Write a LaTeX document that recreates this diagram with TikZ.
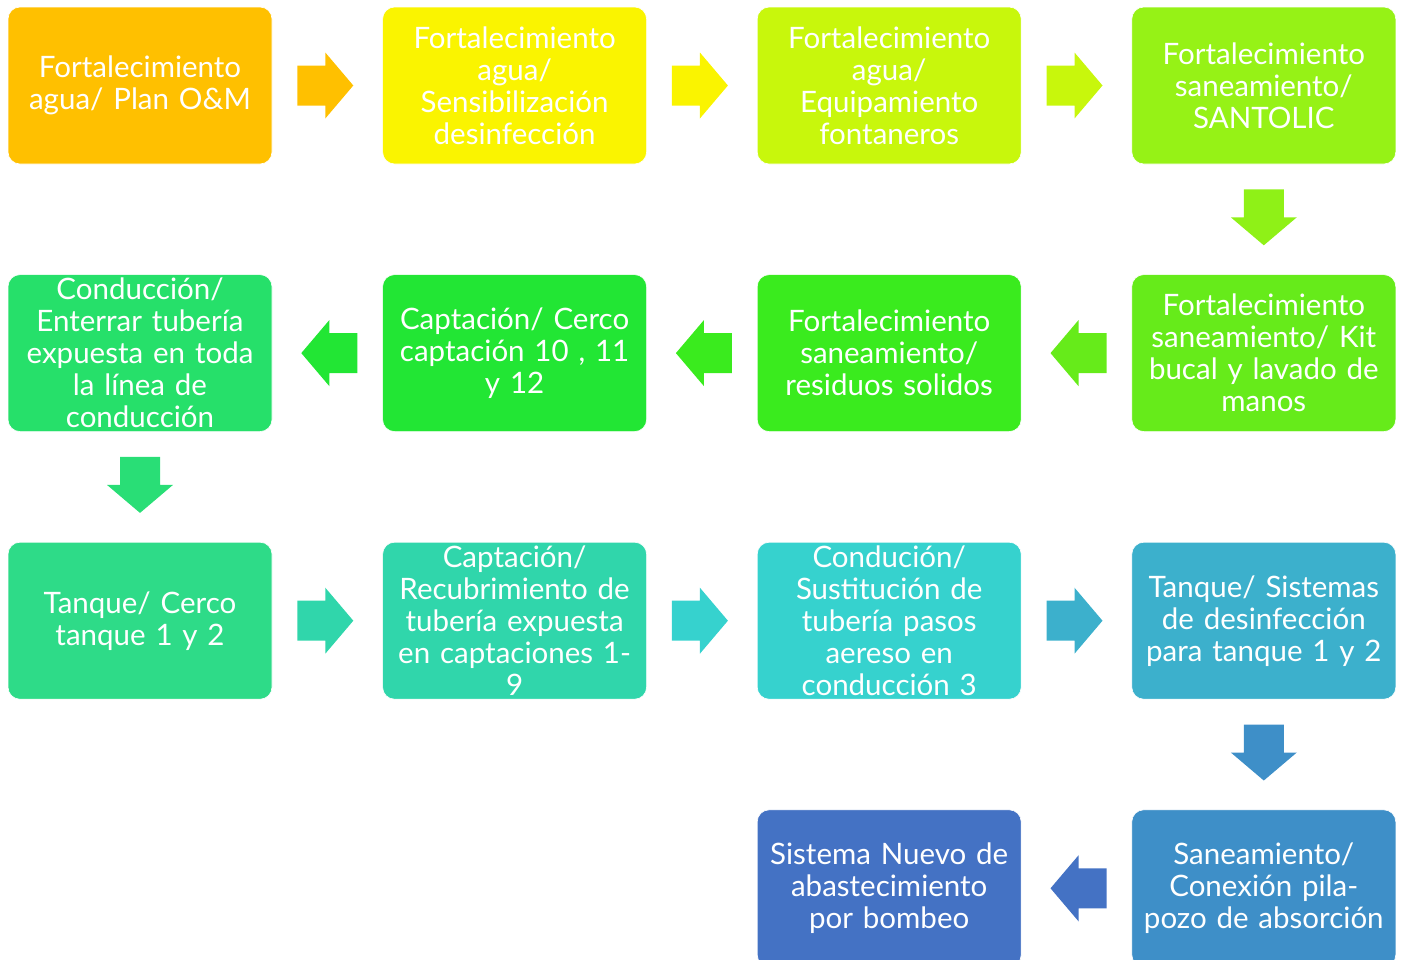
\documentclass[tikz,border=0pt]{standalone}
\usepackage{fontspec}
\setmainfont{Lato}
\usetikzlibrary{positioning,calc}

\definecolor{cOne}{HTML}{FFC000}
\definecolor{cTwo}{HTML}{FAF400}
\definecolor{cThree}{HTML}{C8F70C}
\definecolor{cFour}{HTML}{96F216}
\definecolor{cFive}{HTML}{66EB1A}
\definecolor{cSix}{HTML}{3AEB1E}
\definecolor{cSeven}{HTML}{22E634}
\definecolor{cEight}{HTML}{26E06A}
\definecolor{cNine}{HTML}{2EDB88}
\definecolor{cTen}{HTML}{30D6AB}
\definecolor{cEleven}{HTML}{36D2CE}
\definecolor{cTwelve}{HTML}{3CB0CC}
\definecolor{cThirteen}{HTML}{3E8FC8}
\definecolor{cFourteen}{HTML}{4472C4}

\tikzset{
  stage/.style={fill=#1, draw=white, line width=0.6pt, rounded corners=12pt,
    minimum width=264pt, minimum height=157pt, text width=262pt, inner sep=0pt,
    align=center, text=white, font=\fontsize{29.5}{32}\selectfont},
}

% block arrow: node, anchor, direction, colour
\newcommand{\flowarrow}[4]{%
  \fill[#4, shift={($(#1.#2)+(#3:25pt)$)}, rotate=#3]
    (0,20) -- (28,20) -- (28,33) -- (56,0) -- (28,-33) -- (28,-20) -- (0,-20) -- cycle;}

\begin{document}
\begin{tikzpicture}[x=1pt, y=1pt]
  \useasboundingbox (0,0) rectangle (1405,-959);

  % first row
  \node[stage=cOne] (plan) at (140,-85.5) {Fortalecimiento\\agua/ Plan O\&M};
  \node[stage=cTwo, right=110pt of plan] (sensib) {Fortalecimiento\\agua/\\Sensibilización\\desinfección};
  \node[stage=cThree, right=110pt of sensib] (equip) {Fortalecimiento\\agua/\\Equipamiento\\fontaneros};
  \node[stage=cFour, right=110pt of equip] (santolic) {Fortalecimiento\\saneamiento/\\SANTOLIC};

  % second row
  \node[stage=cFive, below=110pt of santolic] (kit) {Fortalecimiento\\saneamiento/ Kit\\bucal y lavado de\\manos};
  \node[stage=cSix, left=110pt of kit] (residuos) {Fortalecimiento\\saneamiento/\\residuos solidos};
  \node[stage=cSeven, left=110pt of residuos] (cerco) {Captación/ Cerco\\captación 10 , 11\\y 12};
  \node[stage=cEight, left=110pt of cerco] (enterrar) {Conducción/\\Enterrar tubería\\expuesta en toda\\la línea de\\conducción};

  % third row
  \node[stage=cNine, below=110pt of enterrar] (tanque) {Tanque/ Cerco\\tanque 1 y 2};
  \node[stage=cTen, right=110pt of tanque] (recub) {Captación/\\Recubrimiento de\\tubería expuesta\\en captaciones 1-\\9};
  \node[stage=cEleven, right=110pt of recub] (pasos) {Condución/\\Sustitución de\\tubería pasos\\aereso en\\conducción 3};
  \node[stage=cTwelve, right=110pt of pasos] (desinf) {Tanque/ Sistemas\\de desinfección\\para tanque 1 y 2};

  % fourth row
  \node[stage=cThirteen, below=110pt of desinf] (pozo) {Saneamiento/\\Conexión pila-\\pozo de absorción};
  \node[stage=cFourteen, left=110pt of pozo] (bombeo) {Sistema Nuevo de\\abastecimiento\\por bombeo};

  % arrows
  \flowarrow{plan}{east}{0}{cOne}
  \flowarrow{sensib}{east}{0}{cTwo}
  \flowarrow{equip}{east}{0}{cThree}
  \flowarrow{santolic}{south}{-90}{cFour!85!cFive}
  \flowarrow{kit}{west}{180}{cFive}
  \flowarrow{residuos}{west}{180}{cSix}
  \flowarrow{cerco}{west}{180}{cSeven}
  \flowarrow{enterrar}{south}{-90}{cEight!60!cNine}
  \flowarrow{tanque}{east}{0}{cTen}
  \flowarrow{recub}{east}{0}{cEleven}
  \flowarrow{pasos}{east}{0}{cTwelve}
  \flowarrow{desinf}{south}{-90}{cThirteen}
  \flowarrow{pozo}{west}{180}{cFourteen}
\end{tikzpicture}
\end{document}
